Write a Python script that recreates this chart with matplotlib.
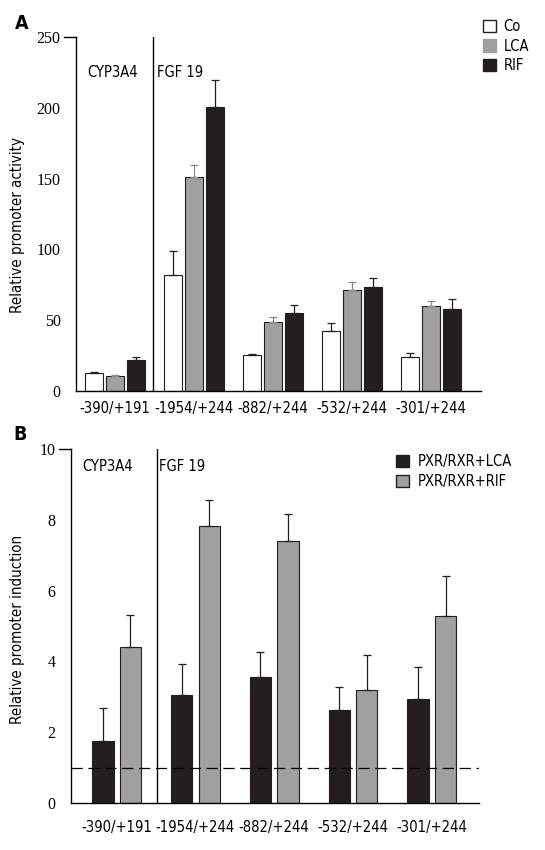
import numpy as np
from matplotlib import pyplot as plt
from matplotlib.patches import Patch

constructs = ["-390/+191", "-1954/+244", "-882/+244", "-532/+244", "-301/+244"]

# panel A: relative promoter activity
co_mean = [12.5, 81.7, 25.2, 42.1, 23.8]
co_err = [0.7, 17.2, 0.7, 6.2, 2.8]
lca_mean = [10.4, 150.9, 48.5, 71.1, 60.0]
lca_err = [1.1, 8.9, 3.5, 6.1, 3.5]
rif_mean = [21.9, 200.3, 54.8, 73.4, 57.9]
rif_err = [1.9, 19.6, 5.7, 6.2, 6.8]

# panel B: relative promoter induction
pxr_lca_mean = [1.75, 3.05, 3.56, 2.63, 2.95]
pxr_lca_err = [0.92, 0.89, 0.71, 0.65, 0.88]
pxr_rif_mean = [4.41, 7.82, 7.40, 3.19, 5.27]
pxr_rif_err = [0.89, 0.73, 0.75, 0.99, 1.14]

DARK = "#231f20"
GRAY = "#a0a0a0"
SERIF = "Liberation Serif"
plt.rcParams["font.family"] = ["DejaVu Sans"]
plt.rcParams["font.stretch"] = "condensed"

fig = plt.figure(figsize=(5.45, 8.5), dpi=100)
axA = fig.add_axes([0.1394, 0.54, 0.743, 0.4165])
axB = fig.add_axes([0.1303, 0.0553, 0.7486, 0.4165])

x = np.arange(len(constructs))


def style(ax, ymax, yticks, xpad):
    ax.spines["top"].set_visible(False)
    ax.spines["right"].set_visible(False)
    ax.spines["left"].set_linewidth(1.0)
    ax.spines["bottom"].set_linewidth(1.0)
    ax.set_ylim(0, ymax)
    ax.set_yticks(yticks)
    ax.set_yticklabels([str(t) for t in yticks], family=SERIF, fontsize=11.5)
    ax.tick_params(axis="y", length=0, pad=11)
    ax.tick_params(axis="x", length=0, pad=xpad, labelsize=10.6)
    ax.set_xticks(x)
    ax.set_xticklabels(constructs)
    # small tick at the top only
    ax.plot([-0.03, 0], [1, 1], transform=ax.transAxes, color="black",
            lw=1.0, clip_on=False)


ekw = dict(capsize=3, elinewidth=0.9, capthick=0.9)

# ---- panel A ----
w = 0.225
off = 0.265
axA.bar(x - off, co_mean, w, color="white", edgecolor=DARK, lw=0.8,
        yerr=[np.zeros(5), co_err], error_kw=dict(ecolor=DARK, **ekw))
axA.bar(x, lca_mean, w, color=GRAY, edgecolor=DARK, lw=0.8,
        yerr=[np.zeros(5), lca_err], error_kw=dict(ecolor="#888888", **ekw))
axA.bar(x + off, rif_mean, w, color=DARK, edgecolor=DARK, lw=0.8,
        yerr=[np.zeros(5), rif_err], error_kw=dict(ecolor=DARK, **ekw))
axA.set_xlim(-0.49, 4.63)
style(axA, 250, [0, 50, 100, 150, 200, 250], 7)
axA.axvline(0.48, color="black", lw=1.0)
axA.set_ylabel("Relative promoter activity", fontsize=10.8)
axA.yaxis.set_label_coords(-0.126, 0.47)
axA.text(0.027, 0.9, "CYP3A4", transform=axA.transAxes, fontsize=10.5, va="center")
axA.text(0.2, 0.9, "FGF 19", transform=axA.transAxes, fontsize=10.5, va="center")
fig.text(0.028, 0.972, "A", fontsize=14, fontweight="bold", va="center")
fig.legend(handles=[Patch(facecolor="white", edgecolor=DARK, label="Co"),
                    Patch(facecolor=GRAY, edgecolor=GRAY, label="LCA"),
                    Patch(facecolor=DARK, edgecolor=DARK, label="RIF")],
           loc="upper left", bbox_to_anchor=(0.873, 0.986), frameon=False,
           fontsize=10.5, handlelength=0.9, handleheight=0.9,
           handletextpad=0.5, labelspacing=0.3, borderpad=0)

# ---- panel B ----
wb = 0.27
offb = 0.175
axB.bar(x - offb, pxr_lca_mean, wb, color=DARK, edgecolor=DARK, lw=0.8,
        yerr=[np.zeros(5), pxr_lca_err], error_kw=dict(ecolor=DARK, **ekw))
axB.bar(x + offb, pxr_rif_mean, wb, color=GRAY, edgecolor=DARK, lw=0.8,
        yerr=[np.zeros(5), pxr_rif_err], error_kw=dict(ecolor=DARK, **ekw))
axB.set_xlim(-0.58, 4.6)
style(axB, 10, [0, 2, 4, 6, 8, 10], 12)
axB.axvline(0.51, color="black", lw=1.0)
axB.axhline(1, color="black", lw=0.9, dashes=(9, 4.5))
axB.set_ylabel("Relative promoter induction", fontsize=10.8)
axB.yaxis.set_label_coords(-0.113, 0.49)
axB.text(0.027, 0.95, "CYP3A4", transform=axB.transAxes, fontsize=10.5, va="center")
axB.text(0.215, 0.95, "FGF 19", transform=axB.transAxes, fontsize=10.5, va="center")
fig.text(0.024, 0.489, "B", fontsize=14, fontweight="bold", va="center")
fig.legend(handles=[Patch(facecolor=DARK, edgecolor=DARK, label="PXR/RXR+LCA"),
                    Patch(facecolor=GRAY, edgecolor=DARK, label="PXR/RXR+RIF")],
           loc="upper left", bbox_to_anchor=(0.713, 0.474), frameon=False,
           fontsize=10.5, handlelength=0.9, handleheight=0.9,
           handletextpad=0.6, labelspacing=0.3, borderpad=0)

plt.savefig("out.png", dpi=100)
